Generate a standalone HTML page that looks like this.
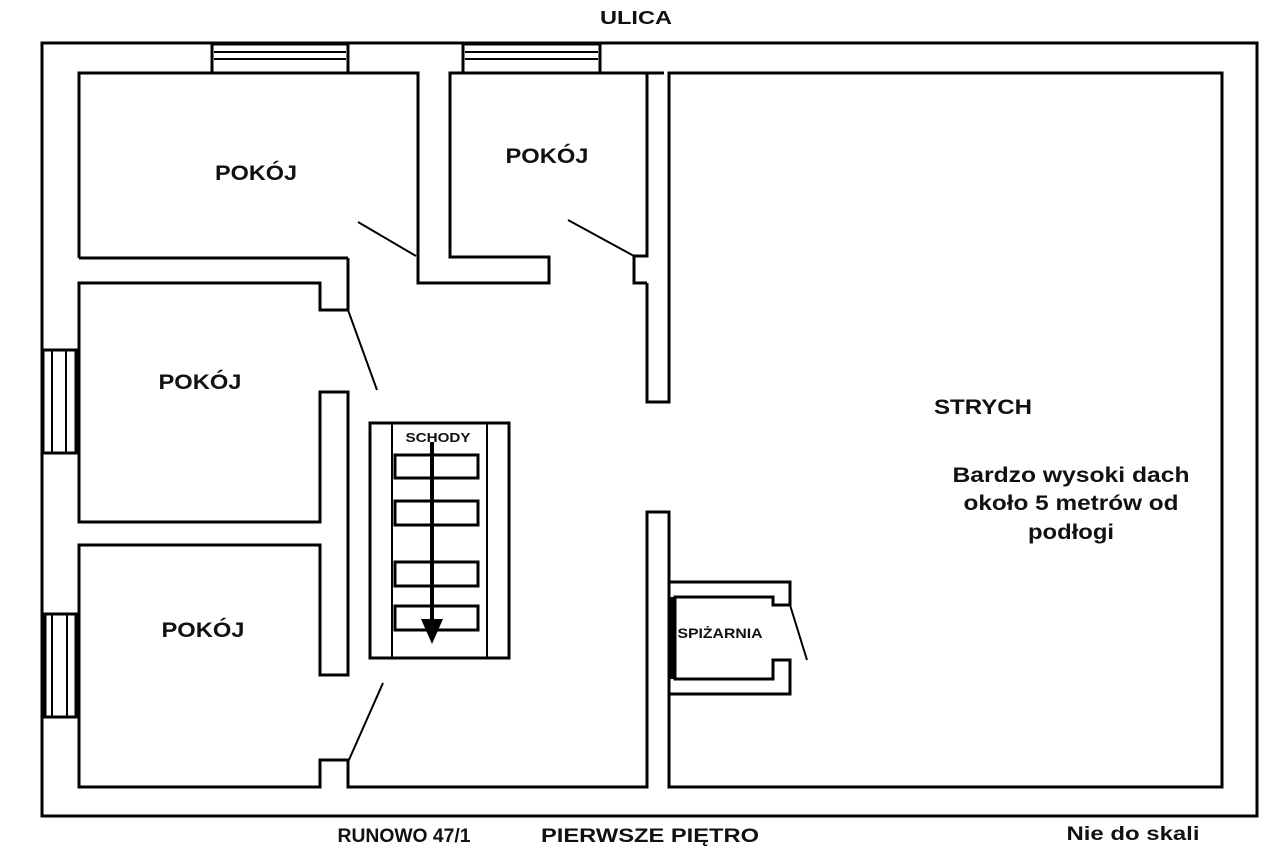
<!DOCTYPE html>
<html><head><meta charset="utf-8"><style>
html,body{margin:0;padding:0;background:#fff;}
svg{display:block;}
text{font-family:"Liberation Sans",sans-serif;font-weight:bold;fill:#111;}
</style></head><body>
<svg width="1280" height="847" viewBox="0 0 1280 847" xmlns="http://www.w3.org/2000/svg">
<rect x="0" y="0" width="1280" height="847" fill="#fff"/>
<g stroke="#000" stroke-width="3" fill="none">
<rect x="42" y="43" width="1215" height="773"/>
<rect x="212" y="44" width="136" height="29" fill="#fff"/>
<line x1="214" y1="52" x2="346" y2="52" stroke-width="2"/>
<line x1="214" y1="59" x2="346" y2="59" stroke-width="2"/>
<rect x="463" y="44" width="137" height="29" fill="#fff"/>
<line x1="465" y1="52" x2="598" y2="52" stroke-width="2"/>
<line x1="465" y1="59" x2="598" y2="59" stroke-width="2"/>
<rect x="43" y="350" width="33" height="103" fill="#fff"/>
<line x1="52" y1="350" x2="52" y2="453" stroke-width="2"/>
<line x1="66" y1="350" x2="66" y2="453" stroke-width="2"/>
<rect x="45" y="614" width="31" height="103" fill="#fff"/>
<line x1="52" y1="614" x2="52" y2="717" stroke-width="2"/>
<line x1="67" y1="614" x2="67" y2="717" stroke-width="2"/>
<polyline points="79,258 79,73 418,73 418,283 549,283 549,257 450,257 450,73 664,73"/>
<line x1="79" y1="258" x2="348" y2="258"/>
<line x1="348" y1="258" x2="348" y2="310"/>
<polyline points="647,73 647,256 634,256 634,283 647,283"/>
<polyline points="647,283 647,402 669,402 669,73 1222,73 1222,787 669,787 669,512 647,512 647,787 348,787 348,760 320,760 320,787 79,787 79,545 320,545 320,675 348,675 348,392 320,392 320,522 79,522 79,283 320,283 320,310 348,310"/>
<line x1="358" y1="222" x2="416" y2="256" stroke-width="2"/>
<line x1="568" y1="220" x2="634" y2="256" stroke-width="2"/>
<line x1="348" y1="310" x2="377" y2="390" stroke-width="2"/>
<line x1="383" y1="683" x2="348" y2="762" stroke-width="2"/>
<rect x="370" y="423" width="139" height="235"/>
<line x1="392" y1="423" x2="392" y2="658" stroke-width="2"/>
<line x1="487" y1="423" x2="487" y2="658" stroke-width="2"/>
<rect x="395" y="455" width="83" height="23"/>
<rect x="395" y="501" width="83" height="24"/>
<rect x="395" y="562" width="83" height="24"/>
<rect x="395" y="606" width="83" height="24"/>
<line x1="432" y1="442" x2="432" y2="625" stroke-width="4"/>
<polyline points="669,582 790,582 790,605 773,605 773,597 675,597 675,679 773,679 773,660 790,660 790,694 669,694"/>
<line x1="790" y1="605" x2="807" y2="660" stroke-width="2"/>
</g>
<line x1="673" y1="597" x2="673" y2="679" stroke="#000" stroke-width="5"/>
<polygon points="421,619 443,619 432,644" fill="#000"/>
<g text-anchor="middle" lengthAdjust="spacingAndGlyphs">
<text x="438" y="442" font-size="13" textLength="65" lengthAdjust="spacingAndGlyphs">SCHODY</text>
<text x="636" y="24" font-size="18" textLength="72" lengthAdjust="spacingAndGlyphs">ULICA</text>
<text x="256" y="180" font-size="21" textLength="82" lengthAdjust="spacingAndGlyphs">POKÓJ</text>
<text x="547" y="163" font-size="21" textLength="83" lengthAdjust="spacingAndGlyphs">POKÓJ</text>
<text x="200" y="389" font-size="21" textLength="83" lengthAdjust="spacingAndGlyphs">POKÓJ</text>
<text x="203" y="637" font-size="21" textLength="83" lengthAdjust="spacingAndGlyphs">POKÓJ</text>
<text x="983" y="414" font-size="21" textLength="98" lengthAdjust="spacingAndGlyphs">STRYCH</text>
<text x="1071" y="482" font-size="21" textLength="237" lengthAdjust="spacingAndGlyphs">Bardzo wysoki dach</text>
<text x="1071" y="510" font-size="21" textLength="215" lengthAdjust="spacingAndGlyphs">około 5 metrów od</text>
<text x="1071" y="539" font-size="21" textLength="86" lengthAdjust="spacingAndGlyphs">podłogi</text>
<text x="720" y="638" font-size="14" textLength="85" lengthAdjust="spacingAndGlyphs">SPIŻARNIA</text>
<text x="404" y="842" font-size="19" textLength="133" lengthAdjust="spacingAndGlyphs">RUNOWO 47/1</text>
<text x="650" y="842" font-size="19" textLength="218" lengthAdjust="spacingAndGlyphs">PIERWSZE PIĘTRO</text>
<text x="1133" y="840" font-size="19" textLength="133" lengthAdjust="spacingAndGlyphs">Nie do skali</text>
</g>
</svg>
</body></html>
